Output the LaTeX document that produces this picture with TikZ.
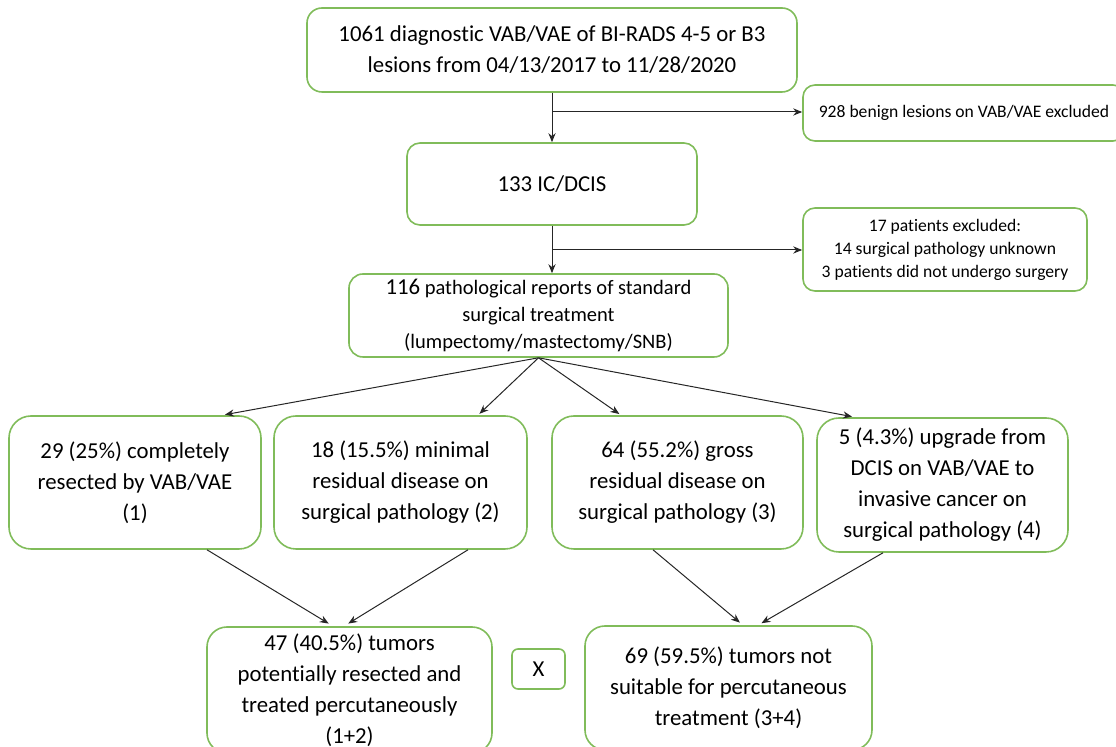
\documentclass[tikz,border=0pt]{standalone}
\usepackage{fontspec}
\setmainfont{Carlito}[Ligatures={NoCommon,NoRequired,NoContextual}, RawFeature={-calt}]
\usetikzlibrary{arrows.meta}
\definecolor{boxgreen}{RGB}{128,188,90}
\tikzset{>={Stealth[length=4.5pt,width=3.6pt]}}

\begin{document}
\begin{tikzpicture}[x=0.5pt,y=-0.5pt,
    box/.style={draw=boxgreen, line width=0.8pt, rounded corners=8pt, align=center, inner sep=0pt, font=\fontsize{11.4}{15.5}\selectfont},
    smallbox/.style={box, rounded corners=6pt, font=\fontsize{8.8}{11.5}\selectfont},
    link/.style={->, line width=0.5pt, black!85}]
    \useasboundingbox (0,0) rectangle (1116,747);

    \node [box, rounded corners=7.5pt, minimum width=245pt, minimum height=42pt] (b1) at (552,50) {1061 diagnostic VAB/VAE of BI-RADS 4-5 or B3\\lesions from 04/13/2017 to 11/28/2020};
    \node [box, rounded corners=6.5pt, minimum width=145pt, minimum height=41pt] (b2) at (552,184) {133 IC/DCIS};
    \node [box, font=\fontsize{10.25}{13.5}\selectfont, rounded corners=7pt, minimum width=189.5pt, minimum height=41.5pt] (b3) at (538.5,315.5) {{\fontsize{11.4}{13.5}\selectfont 116} pathological reports of standard\\surgical treatment\\(lumpectomy/mastectomy/SNB)};

    \node [smallbox, minimum width=161pt, minimum height=28pt] (ex1) at (964,113) {928 benign lesions on VAB/VAE excluded};
    \node [smallbox, minimum width=142pt, minimum height=41.5pt] (ex2) at (945,249.5) {17 patients excluded:\\14 surgical pathology unknown\\3 patients did not undergo surgery};

    \node [box, rounded corners=11pt, minimum width=126pt, minimum height=66.5pt] (g1) at (135,482.5) {29 (25\%) completely\\resected by VAB/VAE\\(1)};
    \node [box, rounded corners=11pt, minimum width=126.5pt, minimum height=66.5pt] (g2) at (400.5,482.5) {18 (15.5\%) minimal\\residual disease on\\surgical pathology (2)};
    \node [box, rounded corners=11pt, minimum width=125.5pt, minimum height=66.5pt] (g3) at (677.5,482.5) {64 (55.2\%) gross\\residual disease on\\surgical pathology (3)};
    \node [box, rounded corners=11pt, minimum width=125.5pt, minimum height=67pt] (g4) at (942.5,485) {5 (4.3\%) upgrade from\\DCIS on VAB/VAE to\\invasive cancer on\\surgical pathology (4)};

    \node [box, rounded corners=10pt, minimum width=142.5pt, minimum height=63pt] (ok) at (349.5,690) {47 (40.5\%) tumors\\potentially resected and\\treated percutaneously\\(1+2)};
    \node [box, rounded corners=3pt, minimum width=26.5pt, minimum height=20pt] (cross) at (538.5,669) {X};
    \node [box, rounded corners=10pt, minimum width=143.5pt, minimum height=62pt] (notok) at (728.5,688) {69 (59.5\%) tumors not\\suitable for percutaneous\\treatment (3+4)};

    \coordinate (j1) at (552,112);
    \coordinate (j2) at (552,250);

    \draw [link] (b1.south) -- (b2.north);
    \draw [link] (j1) -- (j1 -| ex1.west);
    \draw [link] (b2.south) -- (b2.south |- b3.north);
    \draw [link] (j2) -- (j2 -| ex2.west);

    \draw [link, shorten >=1.5pt] (b3.south) -- ([xshift=43.5pt]g1.north);
    \draw [link, shorten >=1pt] (b3.south) -- ([xshift=38.75pt]g2.north);
    \draw [link, shorten >=1pt] (b3.south) -- ([xshift=-28.25pt]g3.north);
    \draw [link, shorten >=1.5pt] (b3.south) -- ([xshift=-43.75pt]g4.north);

    \draw [link, shorten >=2.5pt] ([xshift=36pt]g1.south) -- ([xshift=-8.25pt]ok.north);
    \draw [link, shorten >=2.5pt] ([xshift=33.75pt]g2.south) -- ([xshift=-2.75pt]ok.north);
    \draw [link, shorten >=2pt] ([xshift=-12.25pt]g3.south) -- ([xshift=7.25pt]notok.north);
    \draw [link, shorten >=2pt] ([xshift=-29.75pt]g4.south) -- ([xshift=14.75pt]notok.north);
\end{tikzpicture}
\end{document}
